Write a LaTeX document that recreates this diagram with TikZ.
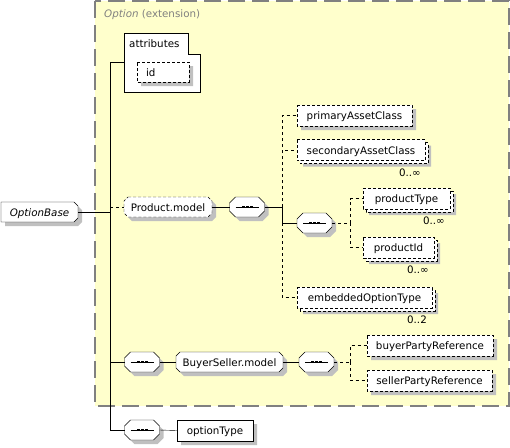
\documentclass[tikz,border=0pt]{standalone}
\usepackage{fontspec}
\setmainfont{DejaVu Sans}
\usepackage{tikz}
\usetikzlibrary{calc, backgrounds}

\definecolor{extfill}{RGB}{255,255,204}
\definecolor{extline}{RGB}{128,128,128}
\definecolor{shadowgrey}{RGB}{192,192,192}

% outline round a node: node, left cut, right cut
\newcommand{\octpath}[3]{($(#1.north west)+(#2,0)$) -- ($(#1.north east)-(#3,0)$) -- ($(#1.north east)+(0,#3)$) -- ($(#1.south east)-(0,#3)$) -- ($(#1.south east)-(#3,0)$) -- ($(#1.south west)+(#2,0)$) -- ($(#1.south west)-(0,#2)$) -- ($(#1.north west)+(0,#2)$) -- cycle}

\begin{document}
\begin{tikzpicture}[
    x=1pt, y=-1pt, line width=1pt,
    font=\fontsize{10.3}{12}\selectfont,
    elem/.style={rectangle, minimum height=21pt, inner sep=0pt, outer sep=0pt, text height=8pt, text depth=0pt},
    opt/.style={dash pattern=on 3pt off 2pt},
    grp/.style={rectangle, minimum height=20pt, inner sep=0pt, outer sep=0pt, text height=8pt, text depth=0pt},
    seq/.style={rectangle, minimum width=35pt, minimum height=20pt, inner sep=0pt, outer sep=0pt},
    offset/.style={transform canvas={shift={(#1,-#1)}}},
    shadowcopy/.style={offset=#1, fill=shadowgrey},
    shadowcopy/.default=4pt,
    optwire/.style={dash pattern=on 3pt off 3pt},
    occ/.style={anchor=north east, inner sep=0pt},
]
\useasboundingbox (0,0) rectangle (510,447);

% Extension frame and attributes
\begin{pgfonlayer}{background}
\draw[extline, fill=extfill, line width=1.5pt, dash pattern=on 17pt off 7pt] (95,1) rectangle (509,406);
\draw[fill=white] (124,33) -- (188,33) -- (188,54) -- (200,54) -- (200,92) -- (124,92) -- cycle;
\end{pgfonlayer}
\node[anchor=base west, inner sep=0pt, text=extline] (exttitle) at (104,17) {\textit{Option} (extension)};
\node[anchor=base west, inner sep=0pt] (attrlabel) at (129,47) {attributes};
\coordinate (attrport) at (124,62);
\node[elem, minimum width=52pt, minimum height=20pt, inner xsep=9pt, text width=34pt, align=left] (idattr) at (163,72) {id};

% Base type
\node[grp, minimum width=77pt] (base) at (39.5,212) {\textit{OptionBase}};

% Product.model
\node[grp, minimum width=88pt] (prodmodel) at (168,207) {Product.model};
\node[seq] (seq1) at (247,207) {};
\node[elem, minimum width=115pt] (primary) at (354.5,115.5) {primaryAssetClass};
\node[elem, minimum width=128pt] (secondary) at (361,150) {secondaryAssetClass};
\node[occ] (secocc) at ([xshift=-4pt, yshift=-8pt]secondary.south east) {0..∞};
\node[seq] (seq2) at (314.5,223) {};
\node[elem, minimum width=87pt] (ptype) at (406.5,198.5) {productType};
\node[occ] (ptypeocc) at ([xshift=-5pt, yshift=-8pt]ptype.south east) {0..∞};
\node[elem, minimum width=71pt] (pid) at (398.5,247.5) {productId};
\node[occ] (pidocc) at ([xshift=-5pt, yshift=-8pt]pid.south east) {0..∞};
\node[elem, minimum width=135pt] (embedded) at (364.5,297.5) {embeddedOptionType};
\node[occ] (embocc) at ([xshift=-5pt, yshift=-8pt]embedded.south east) {0..2};

% BuyerSeller.model
\node[seq] (seq3) at (142,362) {};
\node[grp, minimum width=107pt] (bsmodel) at (229.5,362) {BuyerSeller.model};
\node[seq] (seq4) at (316.5,362) {};
\node[elem, minimum width=126pt] (buyer) at (430,345.5) {buyerPartyReference};
\node[elem, minimum width=125pt] (seller) at (429.5,380.5) {sellerPartyReference};

% optionType
\node[seq] (seq5) at (142,430) {};
\node[elem, minimum width=76pt] (otype) at (215,430.5) {optionType};

% Shadows, stacked copies and outlines
\begin{pgfonlayer}{background}
\foreach \n in {idattr,primary,buyer,seller} {
    \fill[shadowcopy] \octpath{\n}{0}{0};
    \draw[fill=white, opt] \octpath{\n}{0}{0};
}
\fill[shadowcopy] \octpath{otype}{0}{0};
\draw[fill=white] \octpath{otype}{0}{0};
\foreach \n in {secondary,ptype,pid,embedded} {
    \fill[shadowcopy=6pt] \octpath{\n}{0}{0};
    \draw[offset=3pt, fill=white, opt] \octpath{\n}{0}{0};
    \draw[fill=white, opt] \octpath{\n}{0}{0};
}
\fill[shadowcopy] \octpath{base}{0}{4};
\draw[fill=white] \octpath{base}{0}{4};
\fill[shadowcopy] \octpath{prodmodel}{4}{4};
\draw[fill=white, opt] \octpath{prodmodel}{4}{4};
\fill[shadowcopy] \octpath{bsmodel}{4}{4};
\draw[fill=white] \octpath{bsmodel}{4}{4};
\foreach \s in {seq1,seq2,seq3,seq4,seq5} {
    \fill[shadowcopy] \octpath{\s}{6}{6};
    \draw[fill=white] \octpath{\s}{6}{6};
}
\end{pgfonlayer}

% Sequence marks
\foreach \s in {seq1,seq2,seq3,seq4,seq5} {
    \draw ([xshift=6pt]\s.west) -- ([xshift=-6pt]\s.east);
    \foreach \dx in {-5.5,-1.5,2.5}
        \fill ([xshift=\dx pt, yshift=-1.4pt]\s.center) rectangle +(3pt,2.8pt);
}

% Trunk
\coordinate (trunk) at (110,62);
\draw (attrport) -- (trunk) |- (seq5.west);
\draw (base.east) -- (base.east -| trunk);
\draw[optwire] (prodmodel.west -| trunk) -- (prodmodel.west);
\draw (seq3.west -| trunk) -- (seq3.west);

% Product.model content
\coordinate (pbus) at (282,207);
\draw (prodmodel.east) -- (seq1.west);
\draw (seq1.east) -- (pbus);
\draw[optwire] (pbus) |- (primary.west);
\draw[optwire] (pbus) |- (secondary.west);
\draw (pbus) |- (seq2.west);
\draw[optwire] (pbus |- seq2.west) |- (embedded.west);
\coordinate (cbus) at (350,223);
\draw[optwire] (seq2.east) -- (cbus);
\draw[optwire] (cbus) |- (ptype.west);
\draw[optwire] (cbus) |- (pid.west);

% BuyerSeller.model content
\coordinate (lbus) at (350,362);
\draw (seq3.east) -- (bsmodel.west);
\draw (bsmodel.east) -- (seq4.west);
\draw[optwire] (seq4.east) -- (lbus);
\draw[optwire] (lbus) |- (buyer.west);
\draw[optwire] (lbus) |- (seller.west);

\draw (seq5.east) -- (otype.west);
\end{tikzpicture}
\end{document}
